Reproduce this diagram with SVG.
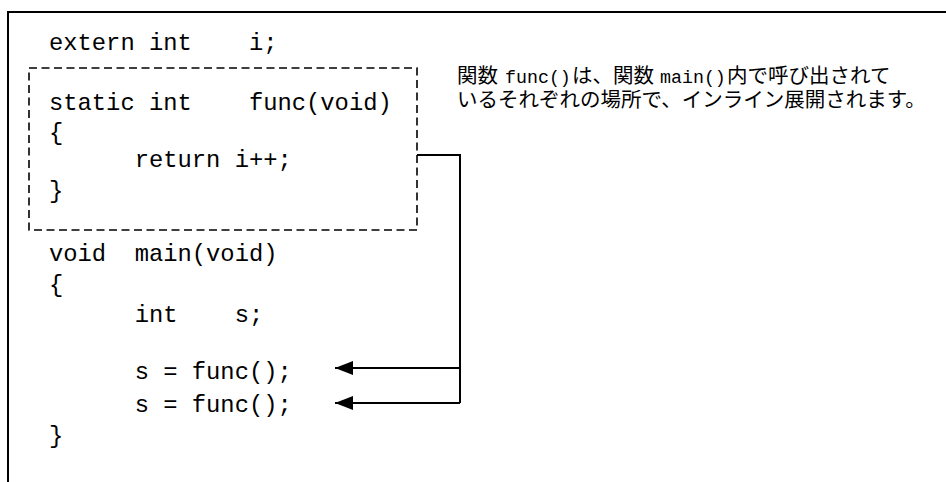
<svg xmlns="http://www.w3.org/2000/svg" width="946" height="482" viewBox="0 0 946 482">
  <style>
    .code { font-family: "Liberation Mono", "Courier New", monospace; font-size: 23.8px; fill: #000; white-space: pre; }
    .jp { font-family: "Noto Sans CJK JP", "Noto Sans", sans-serif; font-size: 20.5px; fill: #000; }
    .jpm { font-family: "Liberation Mono", "Courier New", monospace; font-size: 18.3px; fill: #000; }
    .frame { fill: none; stroke: #000; stroke-width: 2; }
    .dash { fill: none; stroke: #000; stroke-width: 1.6; stroke-dasharray: 8 4.5; }
    .conn { fill: none; stroke: #000; stroke-width: 2; }
  </style>
  <defs>
    <marker id="arrow" markerUnits="userSpaceOnUse" markerWidth="19" markerHeight="15" refX="18" refY="7" orient="auto">
      <path d="M0,0 L18,7 L0,14 Z" fill="#000"/>
    </marker>
  </defs>
  <rect x="0" y="0" width="946" height="482" fill="#fff"/>

  <g id="outer-frame">
    <path class="frame" d="M8,482 L8,12 L946,12"/>
  </g>

  <g id="extern-decl">
    <text class="code" x="49" y="50">extern int    i;</text>
  </g>

  <g id="func-box">
    <rect class="dash" x="29" y="68" width="388" height="162"/>
    <text class="code" x="49" y="110">static int    func(void)</text>
    <text class="code" x="49" y="140">{</text>
    <text class="code" x="49" y="167">      return i++;</text>
    <text class="code" x="49" y="198">}</text>
  </g>

  <g id="main-func">
    <text class="code" x="49" y="261">void  main(void)</text>
    <text class="code" x="49" y="292">{</text>
    <text class="code" x="49" y="322">      int    s;</text>
    <text class="code" x="49" y="379">      s = func();</text>
    <text class="code" x="49" y="412">      s = func();</text>
    <text class="code" x="49" y="443">}</text>
  </g>

  <g id="note">
    <text class="jp" x="457" y="83">関数</text>
    <text class="jpm" x="505" y="83">func()</text>
    <text class="jp" x="572" y="83">は、関数</text>
    <text class="jpm" x="660" y="83">main()</text>
    <text class="jp" x="727" y="83">内で呼び出されて</text>
    <text class="jp" x="457" y="107">いるそれぞれの場所で、インライン展開されます。</text>
  </g>

  <g id="connectors">
    <path class="conn" d="M417,155 L460,155 L460,403"/>
    <path class="conn" d="M460,368 L335,368" marker-end="url(#arrow)"/>
    <path class="conn" d="M460,403 L335,403" marker-end="url(#arrow)"/>
  </g>
</svg>
